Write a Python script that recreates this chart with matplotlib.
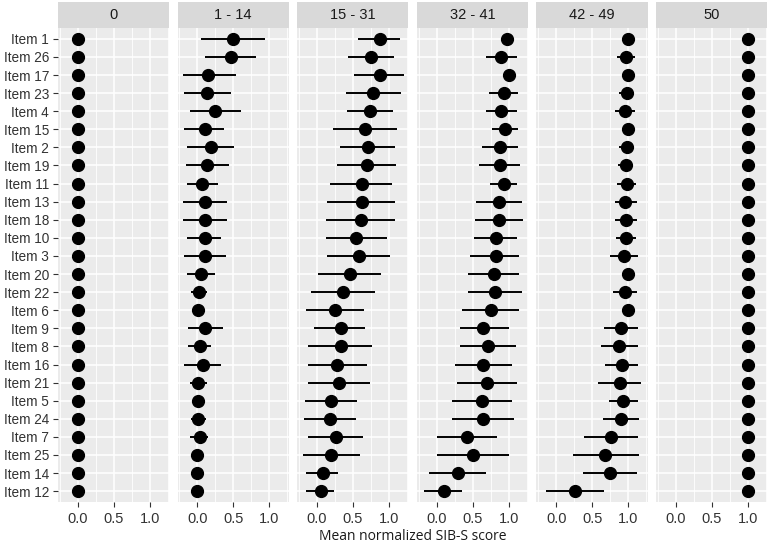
import matplotlib
matplotlib.use("Agg")
import matplotlib.pyplot as plt
import numpy as np

plt.rcParams['font.family'] = ['Liberation Sans', 'DejaVu Sans']

items = ["Item 1", "Item 26", "Item 17", "Item 23", "Item 4", "Item 15", "Item 2",
         "Item 19", "Item 11", "Item 13", "Item 18", "Item 10", "Item 3", "Item 20",
         "Item 22", "Item 6", "Item 9", "Item 8", "Item 16", "Item 21", "Item 5",
         "Item 24", "Item 7", "Item 25", "Item 14", "Item 12"]

groups = ["0", "1 - 14", "15 - 31", "32 - 41", "42 - 49", "50"]

mean_0 = [0.0] * 26
low_0 = [0.0] * 26
high_0 = [0.0] * 26

mean_1_14 = [0.50, 0.46, 0.15, 0.14, 0.25, 0.10, 0.19, 0.14, 0.07, 0.11, 0.11, 0.10, 0.11,
             0.05, 0.02, 0.01, 0.11, 0.03, 0.08, 0.01, 0.01, 0.01, 0.03, 0.0, 0.0, 0.0]
low_1_14 = [0.05, 0.11, -0.20, -0.18, -0.10, -0.18, -0.15, -0.16, -0.14, -0.20, -0.20, -0.14, -0.18,
            -0.15, -0.09, 0.01, -0.13, -0.13, -0.18, -0.10, 0.01, -0.09, -0.10, 0.0, 0.0, 0.0]
high_1_14 = [0.94, 0.82, 0.53, 0.47, 0.60, 0.37, 0.51, 0.44, 0.28, 0.41, 0.41, 0.33, 0.40,
             0.25, 0.13, 0.01, 0.35, 0.19, 0.33, 0.13, 0.01, 0.12, 0.15, 0.0, 0.0, 0.0]

mean_15_31 = [0.87, 0.75, 0.87, 0.78, 0.74, 0.66, 0.71, 0.70, 0.62, 0.62, 0.61, 0.54, 0.58,
              0.46, 0.36, 0.25, 0.33, 0.33, 0.28, 0.31, 0.20, 0.18, 0.26, 0.20, 0.08, 0.05]
low_15_31 = [0.57, 0.43, 0.52, 0.40, 0.41, 0.22, 0.32, 0.28, 0.18, 0.14, 0.13, 0.12, 0.14,
             0.01, -0.08, -0.15, -0.04, -0.12, -0.13, -0.13, -0.16, -0.18, -0.13, -0.20, -0.15, -0.15]
high_15_31 = [1.15, 1.07, 1.21, 1.16, 1.05, 1.11, 1.08, 1.10, 1.04, 1.08, 1.08, 0.97, 1.02,
              0.89, 0.80, 0.65, 0.67, 0.77, 0.69, 0.74, 0.55, 0.54, 0.64, 0.59, 0.29, 0.24]

mean_32_41 = [0.98, 0.89, 1.00, 0.93, 0.89, 0.95, 0.88, 0.88, 0.93, 0.87, 0.87, 0.83, 0.82,
              0.79, 0.81, 0.75, 0.65, 0.71, 0.65, 0.70, 0.63, 0.65, 0.42, 0.50, 0.29, 0.10]
low_32_41 = [0.89, 0.68, 1.00, 0.73, 0.68, 0.77, 0.63, 0.59, 0.74, 0.55, 0.53, 0.52, 0.47,
             0.44, 0.44, 0.35, 0.32, 0.32, 0.25, 0.28, 0.22, 0.22, 0.00, 0.01, -0.10, -0.17]
high_32_41 = [1.06, 1.11, 1.00, 1.13, 1.11, 1.13, 1.13, 1.16, 1.12, 1.18, 1.20, 1.12, 1.15,
              1.15, 1.18, 1.15, 1.00, 1.10, 1.05, 1.11, 1.04, 1.07, 0.84, 1.00, 0.69, 0.35]

mean_42_49 = [1.00, 0.97, 1.00, 0.98, 0.96, 1.00, 0.98, 0.97, 0.98, 0.96, 0.97, 0.97, 0.94,
              1.00, 0.96, 1.00, 0.90, 0.87, 0.91, 0.88, 0.93, 0.90, 0.76, 0.68, 0.75, 0.26]
low_42_49 = [1.00, 0.84, 1.00, 0.87, 0.82, 1.00, 0.87, 0.86, 0.84, 0.81, 0.81, 0.83, 0.74,
             1.00, 0.79, 1.00, 0.67, 0.62, 0.68, 0.58, 0.73, 0.65, 0.39, 0.23, 0.37, -0.14]
high_42_49 = [1.00, 1.10, 1.00, 1.07, 1.10, 1.00, 1.06, 1.07, 1.11, 1.12, 1.12, 1.11, 1.13,
              1.00, 1.12, 1.00, 1.13, 1.13, 1.13, 1.18, 1.13, 1.15, 1.13, 1.15, 1.12, 0.67]

mean_50 = [1.0] * 26
low_50 = [1.0] * 26
high_50 = [1.0] * 26

means = [mean_0, mean_1_14, mean_15_31, mean_32_41, mean_42_49, mean_50]
lows = [low_0, low_1_14, low_15_31, low_32_41, low_42_49, low_50]
highs = [high_0, high_1_14, high_15_31, high_32_41, high_42_49, high_50]

W, H = 771, 553
fig = plt.figure(figsize=(W / 100, H / 100), dpi=100)

left0 = 58
pw = 111.3
gap = 8.3
top = 28
bottom = 502
strip_top = 2

ypos = np.arange(len(items))
for i, g in enumerate(groups):
    x0 = left0 + i * (pw + gap)
    ax = fig.add_axes([x0 / W, (H - bottom) / H, pw / W, (bottom - top) / H])
    ax.set_facecolor("#EBEBEB")
    for s in ax.spines.values():
        s.set_visible(False)
    ax.set_xlim(-0.275, 1.27)
    ax.set_ylim(len(items) - 0.4, -0.6)
    ax.set_xticks([0.0, 0.5, 1.0])
    ax.set_xticklabels(["0.0", "0.5", "1.0"])
    ax.set_xticks([-0.25, 0.25, 0.75, 1.25], minor=True)
    ax.set_yticks(ypos)
    ax.grid(True, which="major", color="white", linewidth=1.1)
    ax.grid(True, which="minor", axis="x", color="white", linewidth=0.6)
    ax.set_axisbelow(True)
    ax.tick_params(axis="x", which="major", colors="#333333", labelsize=10.5,
                   length=3.5, width=0.8, pad=4)
    ax.tick_params(axis="y", which="major", colors="#333333", labelsize=9.8,
                   length=3.5, width=0.8, pad=3)
    ax.tick_params(axis="x", which="minor", length=0)
    if i == 0:
        ax.set_yticklabels(items)
    else:
        ax.set_yticklabels([])
        ax.tick_params(axis="y", length=0)
    m = np.array(means[i])
    lo = np.array(lows[i])
    hi = np.array(highs[i])
    ax.hlines(ypos, lo, hi, color="black", linewidth=1.4, zorder=3)
    ax.plot(m, ypos, "o", color="black", markersize=8.5, zorder=4, linestyle="none")

    sax = fig.add_axes([x0 / W, (H - top) / H, pw / W, (top - strip_top) / H])
    sax.set_facecolor("#D9D9D9")
    sax.set_xticks([])
    sax.set_yticks([])
    for s in sax.spines.values():
        s.set_visible(False)
    sax.text(0.5, 0.5, g, ha="center", va="center", fontsize=10.5, color="#1A1A1A",
             transform=sax.transAxes)

fig.text((left0 + 3 * (pw + gap) - gap / 2) / W, (H - 536) / H, "Mean normalized SIB-S score",
         ha="center", va="center", fontsize=10, color="#1A1A1A",
         family=["Open Sans", "DejaVu Sans"])

fig.savefig("out.png", dpi=100, facecolor="white")
